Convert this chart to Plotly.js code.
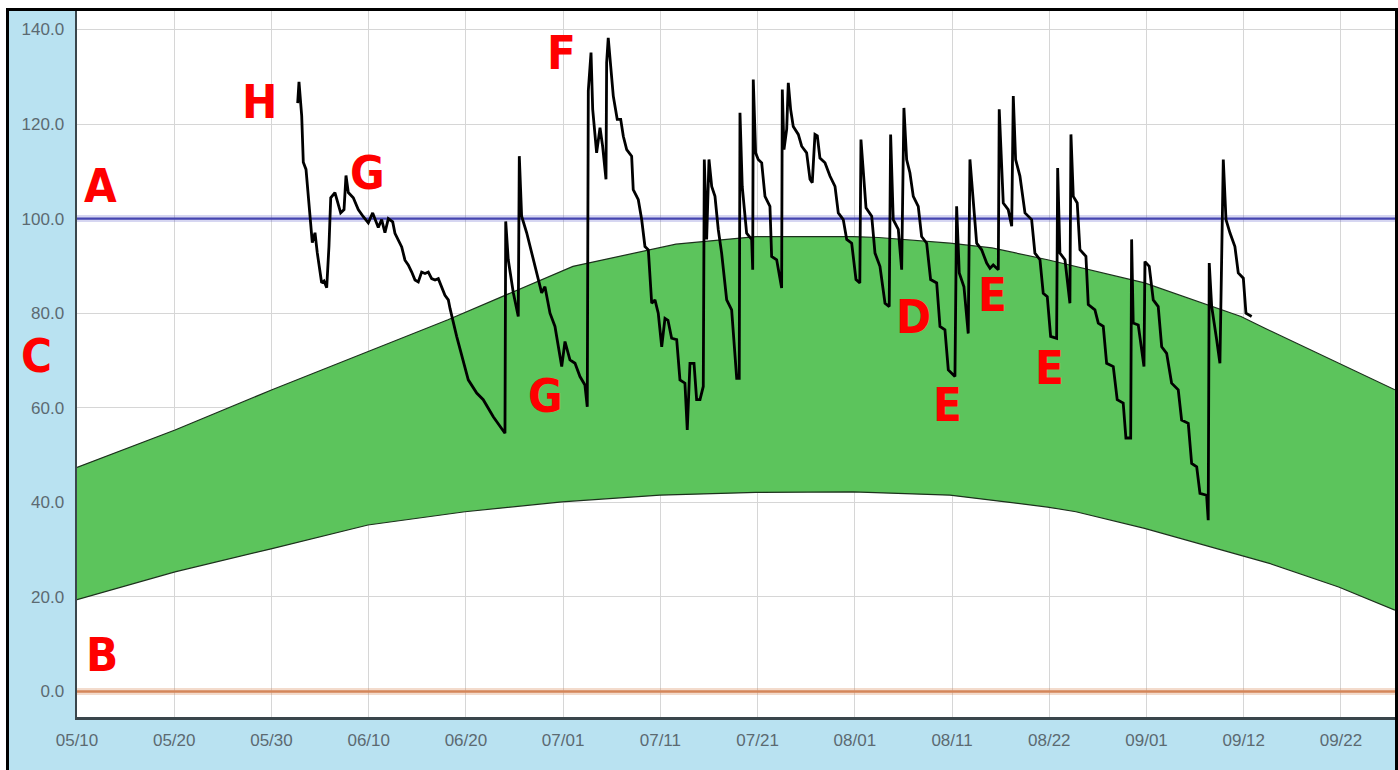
<!DOCTYPE html>
<html>
<head>
<meta charset="utf-8">
<script src="https://cdn.plot.ly/plotly-3.0.1.min.js"></script>
<style>
  html, body { margin: 0; padding: 0; background: #ffffff; overflow: hidden; width: 1398px; height: 770px; }
  #frame { position: absolute; left: 6px; top: 8px; width: 1386px; height: 762px;
           border: 3px solid #000; border-bottom: none; background: #b9e2f1; }
  #chart { position: absolute; left: 0; top: 0; width: 1386px; height: 759px; }
</style>
</head>
<body>
<div id="frame"><div id="chart"></div></div>
<script>
// ---- DATA (x = day of year; 130 = May 10) ----
const tickLabels = ['05/10','05/20','05/30','06/10','06/20','07/01','07/11','07/21','08/01','08/11','08/22','09/01','09/12','09/22'];
const tickFirstDay = 130;
const tickLastDay = 265;

const bandUpperDay = [130, 140.47, 150.83, 161.08, 169.62, 182.97, 193.97, 202.52, 212.88, 215.62, 223.24, 227.72, 233.66, 244.02, 250.15, 254.32, 256.88, 264.75, 270.76];
const bandUpperVal = [47.4, 55.3, 63.8, 71.9, 78.6, 89.9, 94.6, 96.2, 96.2, 96.0, 94.8, 93.8, 91.3, 86.4, 82.1, 79.3, 76.8, 69.5, 63.8];

const bandLowerDay = [130, 140.47, 150.83, 161.08, 171.44, 181.80, 192.26, 202.52, 212.88, 223.24, 233.66, 236.69, 244.02, 254.32, 257.35, 264.75, 270.76];
const bandLowerVal = [19.4, 25.3, 30.2, 35.2, 38.0, 40.1, 41.5, 42.1, 42.2, 41.5, 39.0, 38.0, 34.5, 28.8, 27.1, 22.1, 17.2];

const fullPoint = 100;
const refillPoint = 0;

const probeDay = [153.57,153.71,154.00,154.17,154.46,154.88,155.13,155.42,155.66,156.13,156.38,156.67,156.91,157.10,157.55,158.16,158.52,158.73,158.98,159.51,
160.04,160.58,161.11,161.58,162.18,162.54,162.89,163.25,163.72,163.96,164.32,164.68,165.03,165.38,165.75,166.10,166.45,166.81,167.17,167.52,
167.88,168.24,168.59,168.95,169.30,169.66,169.84,170.55,171.26,171.79,172.69,
173.39,174.46,175.18,175.71,175.79,176.06,176.60,177.13,177.24,177.49,178.03,178.56,179.10,179.63,179.98,180.52,181.05,181.40,181.77,182.12,
182.65,183.19,183.72,184.25,184.50,184.61,184.90,185.08,185.50,185.86,186.14,186.50,186.57,186.74,187.00,187.28,187.70,188.07,188.35,188.71,
189.24,189.41,189.95,190.31,190.66,191.02,191.38,191.73,192.08,192.45,192.80,193.12,193.51,194.05,194.40,194.93,195.18,195.47,195.90,196.18,
196.54,196.89,197.00,197.25,197.50,197.79,198.14,198.49,198.85,199.39,199.92,200.27,200.46,200.73,200.81,201.05,201.52,202.06,202.17,202.23,
202.48,202.76,203.13,203.48,204.01,204.19,204.73,205.26,205.33,205.51,205.80,205.97,206.22,206.50,207.04,207.40,207.93,208.29,208.53,208.82,
209.07,209.35,209.89,210.42,210.96,211.31,211.84,212.21,212.74,213.20,213.61,213.73,214.27,214.88,215.23,215.76,216.30,216.75,216.90,217.18,
217.72,218.08,218.32,218.61,218.96,219.32,219.85,220.21,220.75,221.17,221.82,222.17,222.70,223.06,223.77,223.95,224.23,224.73,225.19,225.37,
225.73,226.09,226.62,227.16,227.51,227.86,228.40,228.50,228.93,229.46,229.83,230.00,230.25,230.71,231.25,231.96,232.31,232.85,233.20,233.63,
233.99,234.63,234.74,234.98,235.52,236.05,236.16,236.41,236.83,237.12,237.76,238.01,238.72,239.08,239.61,239.97,240.68,241.10,241.74,242.03,
242.54,242.64,242.81,243.35,243.96,244.06,244.52,244.78,244.95,245.48,245.85,246.38,246.91,247.62,247.98,248.69,249.05,249.59,249.94,250.65,
250.82,250.93,251.19,251.72,252.07,252.43,252.72,253.14,253.67,254.03,254.57,254.85,255.46];
const probeVal = [124.4,128.9,121.7,111.9,110.4,100.5,94.9,97.0,92.8,86.4,86.8,85.4,94.1,104.4,105.5,101.2,101.9,109.1,105.5,104.4,
101.9,100.4,99.1,101.2,98.1,99.8,97.0,100.0,99.3,96.9,95.4,94.0,91.2,90.2,88.7,87.0,86.6,88.7,88.4,88.7,
87.3,87.0,87.3,85.6,83.8,82.8,81.0,75.1,70.1,65.9,63.1,
61.7,58.1,56.0,54.6,99.4,91.3,84.3,79.3,113.2,100.5,97.0,92.8,88.5,84.3,85.6,80.0,77.2,72.9,68.7,74.0,
70.1,69.4,66.6,64.8,60.2,127.0,135.1,123.1,113.9,119.2,115.3,108.3,133.0,138.2,132.3,125.9,121.0,121.0,117.4,114.6,
113.2,106.1,104.0,99.8,94.1,93.4,82.1,82.8,80.0,72.9,78.9,78.5,74.7,74.4,65.9,65.2,55.3,69.4,69.4,61.7,
61.7,64.5,112.5,95.6,112.5,106.8,104.7,97.7,92.7,82.8,80.7,71.5,66.2,66.2,122.4,106.8,96.9,95.6,89.2,129.4,
113.9,112.5,111.8,104.7,102.6,92.0,91.3,85.3,127.3,114.6,118.9,128.7,123.1,119.5,117.8,115.3,113.9,108.3,107.6,117.8,
117.5,112.8,111.8,109.0,106.8,101.2,99.8,95.6,94.8,87.1,86.4,116.7,102.3,100.5,92.7,89.9,82.1,81.4,117.8,99.8,
97.7,89.2,123.4,112.5,109.7,104.7,102.6,96.2,94.8,87.1,86.4,77.2,76.5,68.0,66.6,102.6,88.5,85.6,75.7,112.5,
103.3,94.8,93.4,90.6,89.5,90.2,89.2,123.1,103.3,101.9,98.4,125.9,112.5,109.0,101.2,99.8,92.7,91.3,84.2,83.5,
75.1,74.7,110.7,92.7,91.3,82.1,117.8,104.7,103.3,93.4,92.0,81.8,80.7,77.9,77.2,69.4,68.7,61.7,61.0,53.6,
53.6,95.6,77.9,77.5,68.7,90.9,89.9,85.6,82.8,81.4,72.9,71.5,65.2,63.8,57.4,56.7,48.2,47.5,41.9,41.5,
36.2,90.6,81.4,74.4,69.4,112.5,99.8,97.0,94.1,88.5,87.4,80.0,79.3];

const markerLetters = ['H','G','F','A','B','G','D','E','E','E'];
const markerDay = [149.5, 161.0, 181.8, 132.5, 132.7, 180.0, 219.3, 227.8, 223.0, 233.9];
const markerVal = [124.7, 109.8, 135.2, 106.9, 7.8, 62.6, 79.4, 84.0, 60.7, 68.6];
const sideLetter = 'C';
const sideLetterVal = 71.1;

// ---- CHART ----
const xMin = 130, xMax = 270.77;
const tickVals = tickLabels.map((_, i) => tickFirstDay + i * (tickLastDay - tickFirstDay) / (tickLabels.length - 1));

const traces = [
  { x: bandLowerDay, y: bandLowerVal, mode: 'lines', line: { color: '#1c301c', width: 1.2 }, hoverinfo: 'skip' },
  { x: bandUpperDay, y: bandUpperVal, mode: 'lines', line: { color: '#1c301c', width: 1.2 },
    fill: 'tonexty', fillcolor: '#5cc45c', hoverinfo: 'skip' },
  { x: [xMin, xMax], y: [fullPoint, fullPoint], mode: 'lines', line: { color: 'rgba(70,70,190,0.22)', width: 7 }, hoverinfo: 'skip' },
  { x: [xMin, xMax], y: [fullPoint, fullPoint], mode: 'lines', line: { color: '#4545b0', width: 2.2 }, hoverinfo: 'skip' },
  { x: [xMin, xMax], y: [refillPoint, refillPoint], mode: 'lines', line: { color: 'rgba(215,135,85,0.3)', width: 7 }, hoverinfo: 'skip' },
  { x: [xMin, xMax], y: [refillPoint, refillPoint], mode: 'lines', line: { color: '#d4865a', width: 2.5 }, hoverinfo: 'skip' },
  { x: probeDay, y: probeVal, mode: 'lines', line: { color: '#000000', width: 2.8 }, hoverinfo: 'skip' }
];

const letterFont = { family: 'Liberation Sans Narrow, DejaVu Sans Condensed, Arial Narrow, sans-serif', size: 47, color: '#ff0000' };
const annotations = markerLetters.map((t, i) => ({
  x: markerDay[i], y: markerVal[i], xref: 'x', yref: 'y', text: '<b>' + t + '</b>',
  showarrow: false, font: letterFont, xanchor: 'center', yanchor: 'middle'
}));
annotations.push({ x: -0.031, y: sideLetterVal, xref: 'paper', yref: 'y', text: '<b>' + sideLetter + '</b>',
  showarrow: false, font: letterFont, xanchor: 'center', yanchor: 'middle' });

const tickFont = { family: 'Liberation Sans, Arial, sans-serif', size: 17, color: '#5c6a71' };

const layout = {
  width: 1386, height: 759,
  margin: { l: 68, r: 0, t: 0, b: 53, pad: 0 },
  paper_bgcolor: '#b9e2f1',
  plot_bgcolor: '#ffffff',
  showlegend: false,
  xaxis: {
    type: 'linear', range: [xMin, xMax], tickmode: 'array', tickvals: tickVals, ticktext: tickLabels,
    showgrid: true, gridcolor: '#d6d6d6', gridwidth: 1, zeroline: false,
    showline: true, linecolor: '#3a464c', linewidth: 2.5, ticks: '', tickfont: tickFont,
    ticklabelstandoff: 6
  },
  yaxis: {
    range: [-5.4, 143.9], tickmode: 'array', tickvals: [0, 20, 40, 60, 80, 100, 120, 140], tickformat: '.1f',
    showgrid: true, gridcolor: '#d6d6d6', gridwidth: 1, zeroline: false,
    showline: true, linecolor: '#3a464c', linewidth: 2.5, ticks: '', tickfont: tickFont,
    ticklabelstandoff: 7
  },
  annotations: annotations
};

Plotly.newPlot('chart', traces, layout, { staticPlot: true, displayModeBar: false });
</script>
</body>
</html>
